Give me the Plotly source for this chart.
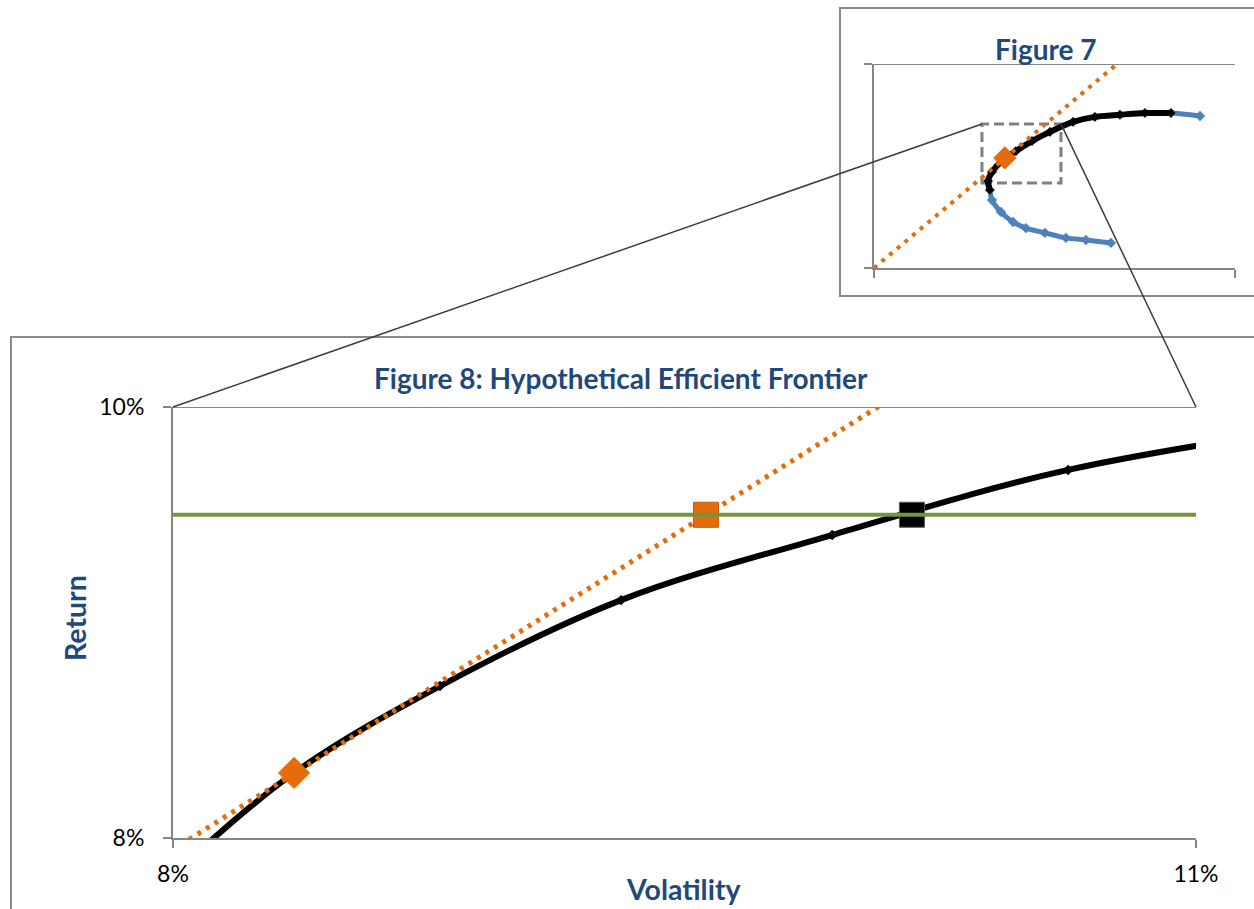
import plotly.graph_objects as go

# ---------------- Figure 8 data (volatility %, return %) ----------------
frontier_vol = [8.00, 8.355, 8.783, 9.314, 9.933, 10.625, 11.45]
frontier_ret = [7.83, 8.302, 8.705, 9.104, 9.406, 9.708, 9.93]

cml_vol = [0.0, 12.0]
cml_ret = [0.0, 11.92]

tangency_vol = [8.355]
tangency_ret = [8.302]

target_return = 9.5
levered_vol = [9.563]
levered_ret = [9.5]
frontier_target_vol = [10.167]
frontier_target_ret = [9.5]

main_x_range = [8, 11]
main_y_range = [8, 10]
main_x_ticks = [8, 11]
main_x_ticktext = ["8%", "11%"]
main_y_ticks = [8, 10]
main_y_ticktext = ["8%", "10%"]

# ---------------- Figure 7 data (overview sketch) ----------------
fig7_upper_vol = [8.30, 8.23, 8.38, 8.76, 9.29, 9.90, 10.58, 11.46, 12.29, 13.24, 14.19, 15.18, 16.28]
fig7_upper_ret = [7.76, 8.07, 8.37, 8.75, 9.08, 9.42, 9.73, 10.07, 10.24, 10.31, 10.37, 10.37, 10.27]
fig7_lower_vol = [8.38, 8.72, 9.18, 9.67, 10.39, 11.19, 11.95, 12.90]
fig7_lower_ret = [7.42, 7.02, 6.68, 6.47, 6.31, 6.14, 6.07, 5.97]
fig7_efficient_count = 12

fig7_cml_vol = [3.9, 14.0]
fig7_cml_ret = [5.12, 12.68]
fig7_tangency_vol = [8.87]
fig7_tangency_ret = [8.85]

fig7_x_range = [3.9, 17.61]
fig7_y_range = [5.12, 12.03]

# ---------------- styling ----------------
W, H = 1254, 909
ORANGE = "#E46C0A"
BLUE = "#4F81BD"
GREEN = "#77933C"
NAVY = "#1F497D"
AXIS_GREY = "#868686"
FRAME_GREY = "#8a8a8a"
CONNECTOR = "#3c3c3c"
FONT = "Lato"


def px_x(p):
    return p / W


def px_y(p):
    return 1 - p / H


main_x_dom = [px_x(173), px_x(1196)]
main_y_dom = [px_y(838), px_y(407)]
ins_x_dom = [px_x(874), px_x(1235)]
ins_y_dom = [px_y(268), px_y(64)]


def to_paper(val, rng, dom):
    return dom[0] + (val - rng[0]) / (rng[1] - rng[0]) * (dom[1] - dom[0])


fig = go.Figure()

# --- main chart traces ---
fig.add_trace(go.Scatter(
    x=frontier_vol, y=frontier_ret, mode="lines+markers",
    line=dict(color="black", width=6, shape="spline", smoothing=1),
    marker=dict(symbol="diamond", size=8, color="black"),
    xaxis="x", yaxis="y", showlegend=False, hoverinfo="skip"))

fig.add_trace(go.Scatter(
    x=cml_vol, y=cml_ret, mode="lines",
    line=dict(color=ORANGE, width=5, dash="4px,6px"),
    xaxis="x", yaxis="y", showlegend=False, hoverinfo="skip"))

fig.add_trace(go.Scatter(
    x=tangency_vol, y=tangency_ret, mode="markers",
    marker=dict(symbol="diamond", size=24, color=ORANGE,
                line=dict(color=ORANGE, width=1)),
    xaxis="x", yaxis="y", showlegend=False, hoverinfo="skip"))

fig.add_trace(go.Scatter(
    x=levered_vol, y=levered_ret, mode="markers",
    marker=dict(symbol="square", size=25, color=ORANGE,
                line=dict(color="#c55a08", width=1)),
    xaxis="x", yaxis="y", showlegend=False, hoverinfo="skip"))

fig.add_trace(go.Scatter(
    x=frontier_target_vol, y=frontier_target_ret, mode="markers",
    marker=dict(symbol="square", size=25, color="black",
                line=dict(color="#555555", width=1)),
    xaxis="x", yaxis="y", showlegend=False, hoverinfo="skip"))

fig.add_trace(go.Scatter(
    x=main_x_range, y=[target_return, target_return], mode="lines",
    line=dict(color=GREEN, width=4),
    xaxis="x", yaxis="y", showlegend=False, hoverinfo="skip"))

# --- inset (Figure 7) traces ---
blue_vol = fig7_lower_vol[::-1] + fig7_upper_vol
blue_ret = fig7_lower_ret[::-1] + fig7_upper_ret
fig.add_trace(go.Scatter(
    x=blue_vol, y=blue_ret, mode="lines+markers",
    line=dict(color=BLUE, width=5, shape="spline", smoothing=0.8),
    marker=dict(symbol="diamond", size=8, color=BLUE),
    xaxis="x2", yaxis="y2", showlegend=False, hoverinfo="skip"))

fig.add_trace(go.Scatter(
    x=fig7_upper_vol[:fig7_efficient_count], y=fig7_upper_ret[:fig7_efficient_count],
    mode="lines+markers",
    line=dict(color="black", width=6, shape="spline", smoothing=0.8),
    marker=dict(symbol="diamond", size=7, color="black"),
    xaxis="x2", yaxis="y2", showlegend=False, hoverinfo="skip"))

fig.add_trace(go.Scatter(
    x=fig7_cml_vol, y=fig7_cml_ret, mode="lines",
    line=dict(color=ORANGE, width=4, dash="4px,6px"),
    xaxis="x2", yaxis="y2", showlegend=False, hoverinfo="skip"))

fig.add_trace(go.Scatter(
    x=fig7_tangency_vol, y=fig7_tangency_ret, mode="markers",
    marker=dict(symbol="diamond", size=18, color=ORANGE),
    xaxis="x2", yaxis="y2", showlegend=False, hoverinfo="skip"))

axis_common = dict(showline=True, linecolor=AXIS_GREY, linewidth=2,
                   ticks="outside", ticklen=8, tickwidth=2, tickcolor=AXIS_GREY,
                   showgrid=False, zeroline=False, fixedrange=True,
                   automargin=False)

shapes = [
    # outer frames
    dict(type="rect", xref="paper", yref="paper",
         x0=px_x(11), x1=1.02, y0=-0.02, y1=px_y(337),
         line=dict(color=FRAME_GREY, width=2), layer="below"),
    dict(type="rect", xref="paper", yref="paper",
         x0=px_x(840), x1=1.02, y0=px_y(296), y1=px_y(8),
         line=dict(color=FRAME_GREY, width=2), layer="below"),
    # top gridlines
    dict(type="line", xref="x domain", yref="y", x0=0, x1=1,
         y0=main_y_range[1], y1=main_y_range[1],
         line=dict(color=AXIS_GREY, width=2), layer="below"),
    dict(type="line", xref="x2 domain", yref="y2", x0=0, x1=1,
         y0=fig7_y_range[1], y1=fig7_y_range[1],
         line=dict(color=AXIS_GREY, width=2), layer="below"),
    # zoom window in the overview
    dict(type="rect", xref="x2", yref="y2",
         x0=main_x_range[0], x1=main_x_range[1],
         y0=main_y_range[0], y1=main_y_range[1],
         line=dict(color="#808080", width=3, dash="10px,5px"), layer="below"),
]

# connector lines from the zoom window to the detailed chart
for xv in main_x_range:
    shapes.append(dict(
        type="line", xref="paper", yref="paper",
        x0=to_paper(xv, main_x_range, main_x_dom),
        y0=to_paper(main_y_range[1], main_y_range, main_y_dom),
        x1=to_paper(xv, fig7_x_range, ins_x_dom),
        y1=to_paper(main_y_range[1], fig7_y_range, ins_y_dom),
        line=dict(color=CONNECTOR, width=1.5), layer="above"))

annotations = [
    dict(text="<b>Figure 8: Hypothetical Efficient Frontier</b>",
         x=px_x(621), y=px_y(378), xref="paper", yref="paper",
         showarrow=False, xanchor="center", yanchor="middle",
         font=dict(family=FONT, size=28, color=NAVY)),
    dict(text="<b>Figure 7</b>",
         x=px_x(1046), y=px_y(49), xref="paper", yref="paper",
         showarrow=False, xanchor="center", yanchor="middle",
         font=dict(family=FONT, size=28, color=NAVY)),
    dict(text="<b>Volatility</b>",
         x=px_x(684), y=px_y(889), xref="paper", yref="paper",
         showarrow=False, xanchor="center", yanchor="middle",
         font=dict(family=FONT, size=28.5, color=NAVY)),
    dict(text="<b>Return</b>", textangle=-90,
         x=px_x(75), y=px_y(618), xref="paper", yref="paper",
         showarrow=False, xanchor="center", yanchor="middle",
         font=dict(family=FONT, size=28.5, color=NAVY)),
]

fig.update_layout(
    width=W, height=H, autosize=False,
    margin=dict(l=0, r=0, t=0, b=0, pad=0, autoexpand=False),
    paper_bgcolor="white", plot_bgcolor="rgba(0,0,0,0)",
    showlegend=False,
    xaxis=dict(domain=main_x_dom, range=main_x_range, anchor="y",
               tickvals=main_x_ticks, ticktext=main_x_ticktext,
               tickfont=dict(family=FONT, size=23, color="black"),
               ticklabelstandoff=6, **axis_common),
    yaxis=dict(domain=main_y_dom, range=main_y_range, anchor="x",
               tickvals=main_y_ticks, ticktext=main_y_ticktext,
               tickfont=dict(family=FONT, size=23, color="black"),
               ticklabelstandoff=14, **axis_common),
    xaxis2=dict(domain=ins_x_dom, range=fig7_x_range, anchor="y2",
                tickvals=fig7_x_range, showticklabels=False, **axis_common),
    yaxis2=dict(domain=ins_y_dom, range=fig7_y_range, anchor="x2",
                tickvals=fig7_y_range, showticklabels=False, **axis_common),
    shapes=shapes,
    annotations=annotations,
)

fig.write_html("out.html")
